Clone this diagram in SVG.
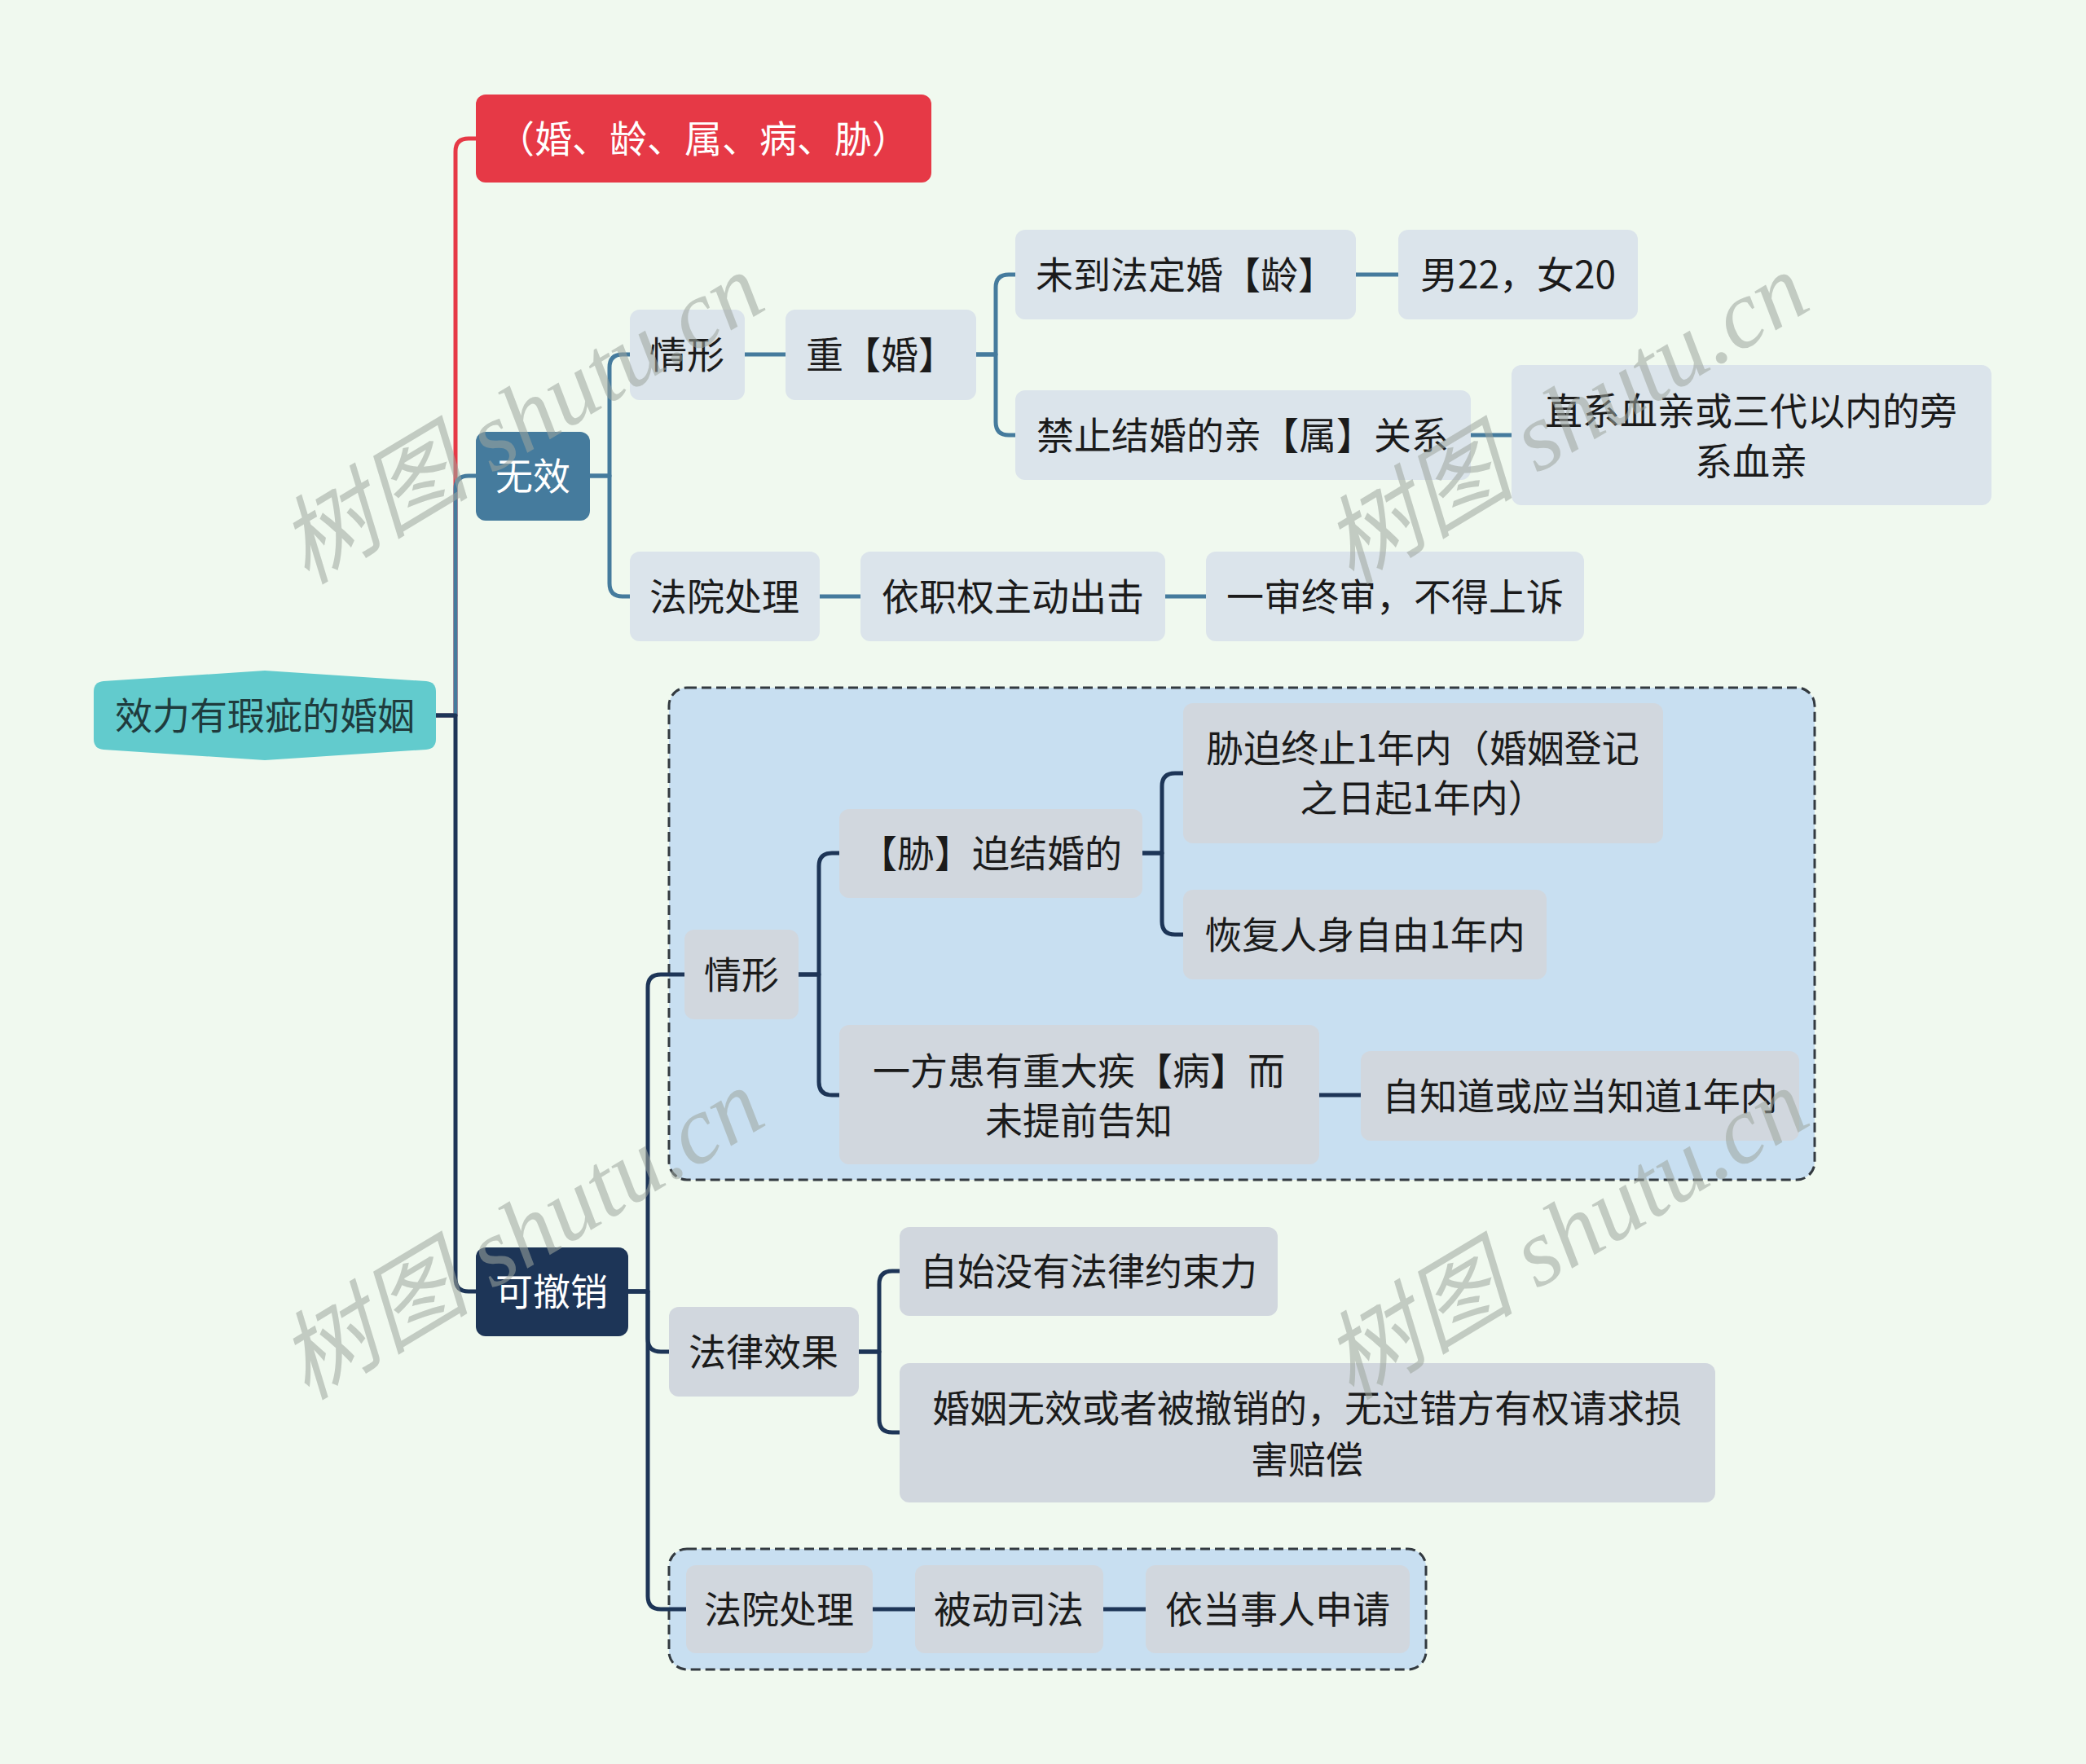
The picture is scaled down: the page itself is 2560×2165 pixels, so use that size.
<svg xmlns="http://www.w3.org/2000/svg" width="2560" height="2165" viewBox="0 0 2560 2165">
<style>
.t{font-family:"Noto Sans CJK SC","Noto Sans",sans-serif;font-size:46px;text-anchor:middle;dominant-baseline:central;fill:#1b1b1b;transform:translateY(-3px)}
.w{fill:#ffffff}
.root{fill:#1f3b3d}
.n1{fill:#dbe4eb}
.n2{fill:#d1d7de}
.grp{fill:#c8dff1;stroke:#333a40;stroke-width:3;stroke-dasharray:12 6}
.c{fill:none;stroke-width:5;stroke-linecap:round;stroke-linejoin:round}
.red{stroke:#e63946}
.blue{stroke:#457b9d}
.navy{stroke:#1d3557}
.wm{font-family:"Liberation Serif","Noto Sans CJK SC",serif;font-style:italic;font-size:118px;fill:#9ea69e;opacity:0.55;text-anchor:middle;dominant-baseline:central}
</style>
<rect width="2560" height="2165" fill="#f0f9ef"/>
<g id="containers">
<rect class="grp" x="821" y="844" width="1406" height="604" rx="22"/>
<rect class="grp" x="821" y="1901" width="929" height="148" rx="22"/>
</g>
<g id="connectors">
<path class="c red" d="M535,878 H559 V186 Q559,170 575,170 H584"/>
<path class="c blue" d="M535,878 H559 V600 Q559,584 575,584 H584"/>
<path class="c navy" d="M535,878 H559 V1569 Q559,1585 575,1585 H584"/>
<path class="c blue" d="M724,584 H748 V451 Q748,435 764,435 H773"/>
<path class="c blue" d="M724,584 H748 V716 Q748,732 764,732 H773"/>
<path class="c blue" d="M914,435 H964"/>
<path class="c blue" d="M1198,435 H1222 V353 Q1222,337 1238,337 H1246"/>
<path class="c blue" d="M1198,435 H1222 V518 Q1222,534 1238,534 H1246"/>
<path class="c blue" d="M1664,337 H1716"/>
<path class="c blue" d="M1805,534 H1855"/>
<path class="c blue" d="M1006,732 H1056"/>
<path class="c blue" d="M1430,732 H1480"/>
<path class="c navy" d="M771,1585 H795 V1212 Q795,1196 811,1196 H840"/>
<path class="c navy" d="M771,1585 H795 V1643 Q795,1659 811,1659 H821"/>
<path class="c navy" d="M771,1585 H795 V1959 Q795,1975 811,1975 H842"/>
<path class="c navy" d="M980,1196 H1005 V1063 Q1005,1047 1021,1047 H1030"/>
<path class="c navy" d="M980,1196 H1005 V1328 Q1005,1344 1021,1344 H1030"/>
<path class="c navy" d="M1402,1047 H1426 V965 Q1426,949 1442,949 H1452"/>
<path class="c navy" d="M1402,1047 H1426 V1131 Q1426,1147 1442,1147 H1452"/>
<path class="c navy" d="M1619,1344 H1670"/>
<path class="c navy" d="M1054,1659 H1079 V1576 Q1079,1560 1095,1560 H1104"/>
<path class="c navy" d="M1054,1659 H1079 V1742 Q1079,1758 1095,1758 H1104"/>
<path class="c navy" d="M1071,1975 H1123"/>
<path class="c navy" d="M1354,1975 H1406"/>
</g>
<g id="root">
<path d="M127,836 L325,823 L523,836 Q535,837 535,849 V907 Q535,919 523,920 L325,933 L127,920 Q115,919 115,907 V849 Q115,837 127,836 Z" fill="#62cbcd"/>
<text class="t root" x="325" y="878">效力有瑕疵的婚姻</text>
</g>
<g id="n-tag">
<rect x="584" y="116" width="559" height="108" rx="12" fill="#e63946"/>
<text class="t w" x="863" y="170">（婚、龄、属、病、胁）</text>
</g>
<g id="n-wuxiao">
<rect x="584" y="530" width="140" height="109" rx="12" fill="#457b9d"/>
<text class="t w" x="654" y="584">无效</text>
</g>
<g id="n-qingxing1">
<rect class="n1" x="773" y="380" width="141" height="111" rx="12"/>
<text class="t" x="843" y="435">情形</text>
</g>
<g id="n-chonghun">
<rect class="n1" x="964" y="380" width="234" height="111" rx="12"/>
<text class="t" x="1081" y="435">重【婚】</text>
</g>
<g id="n-weidao">
<rect class="n1" x="1246" y="282" width="418" height="110" rx="12"/>
<text class="t" x="1455" y="337">未到法定婚【龄】</text>
</g>
<g id="n-nan22">
<rect class="n1" x="1716" y="282" width="294" height="110" rx="12"/>
<text class="t" x="1863" y="337">男22，女20</text>
</g>
<g id="n-jinzhi">
<rect class="n1" x="1246" y="479" width="559" height="110" rx="12"/>
<text class="t" x="1525" y="534">禁止结婚的亲【属】关系</text>
</g>
<g id="n-zhixi">
<rect class="n1" x="1855" y="448" width="589" height="172" rx="12"/>
<text class="t" x="2149" y="504">直系血亲或三代以内的旁</text>
<text class="t" x="2149" y="566">系血亲</text>
</g>
<g id="n-fayuan1">
<rect class="n1" x="773" y="677" width="233" height="110" rx="12"/>
<text class="t" x="889" y="732">法院处理</text>
</g>
<g id="n-yizhiquan">
<rect class="n1" x="1056" y="677" width="374" height="110" rx="12"/>
<text class="t" x="1243" y="732">依职权主动出击</text>
</g>
<g id="n-yishen">
<rect class="n1" x="1480" y="677" width="464" height="110" rx="12"/>
<text class="t" x="1712" y="732">一审终审，不得上诉</text>
</g>
<g id="n-kechexiao">
<rect x="584" y="1531" width="187" height="109" rx="12" fill="#1d3557"/>
<text class="t w" x="677" y="1585">可撤销</text>
</g>
<g id="n-qingxing2">
<rect class="n2" x="840" y="1141" width="140" height="110" rx="12"/>
<text class="t" x="910" y="1196">情形</text>
</g>
<g id="n-xiepo">
<rect class="n2" x="1030" y="993" width="372" height="109" rx="12"/>
<text class="t" x="1216" y="1047">【胁】迫结婚的</text>
</g>
<g id="n-xiepozhongzhi">
<rect class="n2" x="1452" y="863" width="589" height="172" rx="12"/>
<text class="t" x="1746" y="918">胁迫终止1年内（婚姻登记</text>
<text class="t" x="1746" y="979">之日起1年内）</text>
</g>
<g id="n-huifu">
<rect class="n2" x="1452" y="1092" width="446" height="110" rx="12"/>
<text class="t" x="1675" y="1147">恢复人身自由1年内</text>
</g>
<g id="n-yifang">
<rect class="n2" x="1030" y="1258" width="589" height="171" rx="12"/>
<text class="t" x="1324" y="1314">一方患有重大疾【病】而</text>
<text class="t" x="1324" y="1375">未提前告知</text>
</g>
<g id="n-zizhidao">
<rect class="n2" x="1670" y="1290" width="538" height="110" rx="12"/>
<text class="t" x="1939" y="1345">自知道或应当知道1年内</text>
</g>
<g id="n-falv">
<rect class="n2" x="821" y="1604" width="233" height="110" rx="12"/>
<text class="t" x="937" y="1659">法律效果</text>
</g>
<g id="n-zishi">
<rect class="n2" x="1104" y="1506" width="464" height="109" rx="12"/>
<text class="t" x="1336" y="1560">自始没有法律约束力</text>
</g>
<g id="n-hunyin">
<rect class="n2" x="1104" y="1673" width="1001" height="171" rx="12"/>
<text class="t" x="1604" y="1728">婚姻无效或者被撤销的，无过错方有权请求损</text>
<text class="t" x="1604" y="1791">害赔偿</text>
</g>
<g id="n-fayuan2">
<rect class="n2" x="842" y="1921" width="229" height="108" rx="12"/>
<text class="t" x="956" y="1975">法院处理</text>
</g>
<g id="n-beidong">
<rect class="n2" x="1123" y="1921" width="231" height="108" rx="12"/>
<text class="t" x="1238" y="1975">被动司法</text>
</g>
<g id="n-yidangshiren">
<rect class="n2" x="1406" y="1921" width="324" height="108" rx="12"/>
<text class="t" x="1568" y="1975">依当事人申请</text>
</g>
<g id="watermarks">
<text class="wm" transform="translate(640,514) rotate(-31)">树图 shutu.cn</text>
<text class="wm" transform="translate(1922,514) rotate(-31)">树图 shutu.cn</text>
<text class="wm" transform="translate(640,1515) rotate(-31)">树图 shutu.cn</text>
<text class="wm" transform="translate(1922,1515) rotate(-31)">树图 shutu.cn</text>
</g>
</svg>
